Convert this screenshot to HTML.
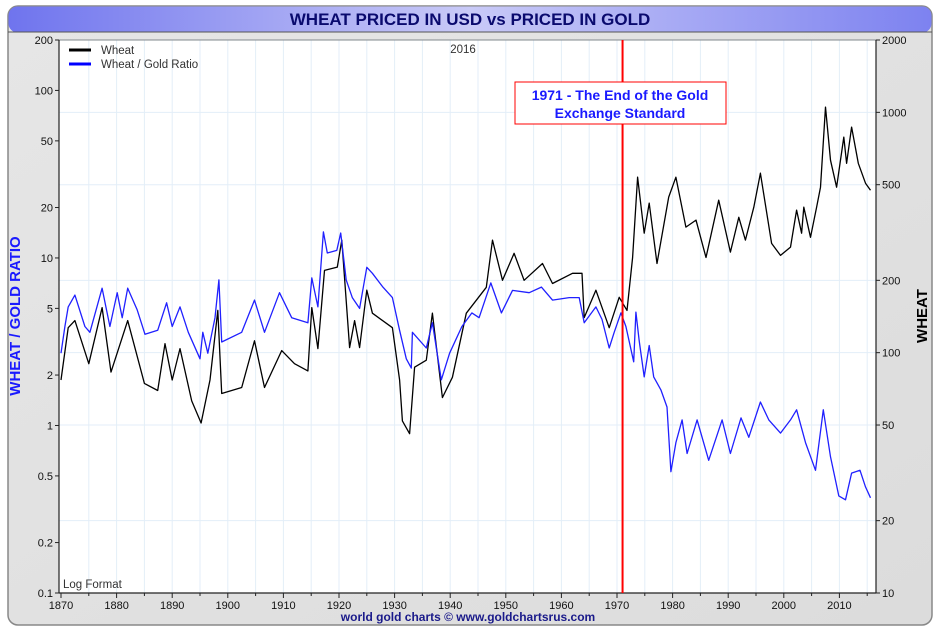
<!DOCTYPE html>
<html><head><meta charset="utf-8"><style>
body{margin:0;background:#fff;width:940px;height:633px;overflow:hidden;font-family:"Liberation Sans",sans-serif}
</style></head><body>
<svg id="chart" width="940" height="633" viewBox="0 0 940 633">
<defs>
<linearGradient id="tg" x1="0" x2="1" y1="0" y2="0"><stop offset="0" stop-color="#6f74ee"/><stop offset="0.5" stop-color="#c9caf7"/><stop offset="1" stop-color="#7d82f0"/></linearGradient>
<linearGradient id="bg" x1="0" x2="1" y1="0" y2="1"><stop offset="0" stop-color="#e6e6e6"/><stop offset="1" stop-color="#dcdcdc"/></linearGradient>
</defs>
<rect x="8" y="6" width="924" height="619" rx="10" fill="url(#bg)" stroke="#888" stroke-width="1.5"/>
<rect x="8.5" y="6.5" width="923" height="26" rx="9" fill="url(#tg)"/>
<line x1="8" y1="32" x2="932" y2="32" stroke="#555" stroke-width="1"/>
<text x="470" y="25" text-anchor="middle" font-size="17" font-weight="bold" fill="#0a0a6e">WHEAT PRICED IN USD vs PRICED IN GOLD</text>
<rect x="59" y="40" width="817" height="553" fill="#fff"/>
<g id="grid"></g>
<g id="series"></g>
<line x1="59" y1="40" x2="59" y2="593" stroke="#222" stroke-width="1.2"/>
<line x1="876" y1="40" x2="876" y2="593" stroke="#222" stroke-width="1.2"/>
<line x1="59" y1="593" x2="876" y2="593" stroke="#222" stroke-width="1.2"/>
<line x1="59" y1="40" x2="876" y2="40" stroke="#222" stroke-width="0.6"/>
<g id="axes" font-size="11" fill="#111"></g>
<text x="20" y="316" transform="rotate(-90 20 316)" text-anchor="middle" font-size="15" font-weight="bold" fill="#1a1aff">WHEAT / GOLD RATIO</text>
<text x="927" y="316" transform="rotate(-90 927 316)" text-anchor="middle" font-size="15" font-weight="bold" fill="#000">WHEAT</text>
<g>
<line x1="69" y1="50" x2="91" y2="50" stroke="#000" stroke-width="3"/>
<text x="101" y="54" font-size="11.5" fill="#333">Wheat</text>
<line x1="69" y1="64" x2="91" y2="64" stroke="#00f" stroke-width="3"/>
<text x="101" y="68" font-size="11.5" fill="#333">Wheat / Gold Ratio</text>
</g>
<text x="463" y="53" text-anchor="middle" font-size="11.5" fill="#333">2016</text>
<text x="63" y="588" font-size="11.5" fill="#333">Log Format</text>
<g id="anno"></g>
<text x="468" y="621" text-anchor="middle" font-size="12" font-weight="bold" fill="#1a1a8a">world gold charts © www.goldchartsrus.com</text>
</svg>
<script>
const wheatYears=[1870,1871.3,1872.5,1875,1877.4,1879,1882,1885,1887.4,1888.7,1890,1891.4,1893.5,1895.2,1896.8,1898.2,1898.9,1902.5,1904.8,1906.6,1909.7,1912,1914.4,1915.1,1916.2,1917.4,1919.7,1920.5,1921.9,1922.8,1923.7,1925,1926,1929.6,1930.9,1931.4,1932.7,1933.6,1935.7,1936.8,1938.6,1940.4,1942.9,1946.5,1947.6,1949.4,1951.5,1953.3,1956.6,1958.4,1962,1963.7,1964.1,1966.2,1968.6,1970.4,1971.8,1972.8,1973.7,1974.9,1975.8,1977.2,1979.3,1980.6,1982.4,1984.2,1986,1988.3,1990.4,1991.9,1993.1,1994.6,1995.8,1997.8,1999.4,2001.2,2002.3,2003.2,2003.6,2004.8,2005.9,2006.6,2007.5,2008.4,2009.5,2010.8,2011.3,2012.2,2013.4,2014.7,2015.6];
const wheatPrice=[77,127,136,90,154,83,136,74.5,69.6,109,77,104,63,51,77,150,67.6,71.6,112,71.6,102,90,84,154,104,220,227,294,105,136,105,182,146,127,77,52,46,87,93,146,65,79,146,187,294,200,259,200,235,194,214,214,140,182,127,170,150,249,537,314,419,235,444,537,333,356,249,431,262,366,294,403,558,285,254,275,392,314,403,302,403,488,1052,632,488,789,614,868,614,507,474];
const ratioYears=[1870,1870.7,1871.3,1872.5,1874.3,1875.2,1877.4,1878.8,1880.1,1881,1882,1883.7,1885.1,1887.4,1889,1890,1891.4,1892.9,1895,1895.5,1896.4,1897.7,1898.4,1898.9,1902.5,1904.8,1906.6,1909.3,1911.5,1914.4,1915.1,1916.2,1917.2,1917.9,1919.6,1920.3,1921.3,1922.4,1923.7,1925,1926,1927.9,1929.6,1930.9,1932.1,1933,1933.2,1935.7,1936.8,1938.4,1939.9,1942.1,1943.9,1945.2,1947.3,1949.2,1951.2,1954.2,1956.4,1958.4,1961.4,1963.2,1964.1,1966.2,1967.3,1968.6,1969.5,1970.7,1971.6,1973,1973.4,1974,1974.9,1975.8,1976.6,1977.9,1979,1979.7,1980.6,1981.7,1982.6,1984.4,1986.5,1988.9,1990.4,1992.3,1993.7,1995.8,1997.3,1999.4,2001.2,2002.3,2003.9,2005.7,2007.1,2008.4,2009.9,2011.1,2012.2,2013.7,2014.7,2015.6];
const ratioValue=[2.7,3.9,5.1,6.0,3.9,3.6,6.6,3.9,6.2,4.4,6.6,4.9,3.5,3.7,5.4,3.9,5.1,3.6,2.5,3.6,2.7,4.4,7.4,3.15,3.6,5.6,3.6,6.2,4.4,4.1,7.6,5.1,14.3,10.7,11.1,14.1,7.4,5.8,5.0,8.8,8.1,6.7,5.8,3.7,2.5,2.2,3.6,2.9,4.1,1.87,2.7,3.9,4.7,4.4,7.1,4.7,6.4,6.2,6.7,5.6,5.8,5.8,4.1,5.1,4.3,2.9,3.6,4.7,3.9,2.4,4.75,3.2,1.95,3.0,1.95,1.63,1.29,0.53,0.79,1.08,0.68,1.08,0.62,1.08,0.68,1.11,0.85,1.38,1.08,0.90,1.08,1.24,0.79,0.54,1.24,0.65,0.38,0.36,0.52,0.54,0.43,0.37];
const leftTicks=[200,100,50,20,10,5,2,1,0.5,0.2,0.1];
const rightTicks=[2000,1000,500,200,100,50,20,10];
const xTicks=[1870,1880,1890,1900,1910,1920,1930,1940,1950,1960,1970,1980,1990,2000,2010];
const eventYear=1971;

const NS="http://www.w3.org/2000/svg";
const X0=59,X1=876,Y0=40,Y1=593;
const xs=y=>61+(y-1870)*5.56;
const yL=v=>Y0+(Math.log10(200)-Math.log10(v))/Math.log10(2000)*(Y1-Y0);
const yR=v=>Y0+(Math.log10(2000)-Math.log10(v))/Math.log10(200)*(Y1-Y0);
function mk(t,a,p){const e=document.createElementNS(NS,t);for(const k in a)e.setAttribute(k,a[k]);p.appendChild(e);return e;}
const grid=document.getElementById('grid'),axes=document.getElementById('axes'),ser=document.getElementById('series');
for(let yr=1875;yr<=2015;yr+=5){const l=mk('line',{x1:xs(yr),x2:xs(yr),y1:Y0,y2:Y1,stroke:'#e3eef8','stroke-width':1},grid);

}
rightTicks.forEach(v=>{const l=mk('line',{x1:X0,x2:X1,y1:yR(v),y2:yR(v),stroke:'#e3eef8','stroke-width':1},grid);

});
for(let yr=1870;yr<=2015;yr+=5){mk('line',{x1:xs(yr),x2:xs(yr),y1:Y1,y2:Y1+(yr%10?3:5),stroke:'#222'},axes);}
xTicks.forEach(yr=>{const t=mk('text',{x:xs(yr),y:Y1+16,'text-anchor':'middle'},axes);t.textContent=yr;

});
leftTicks.forEach(v=>{mk('line',{x1:X0-4,x2:X0,y1:yL(v),y2:yL(v),stroke:'#222'},axes);
const t=mk('text',{x:X0-6,y:yL(v)+4,'text-anchor':'end'},axes);t.textContent=v;

});
rightTicks.forEach(v=>{mk('line',{x1:X1,x2:X1+4,y1:yR(v),y2:yR(v),stroke:'#222'},axes);
const t=mk('text',{x:X1+6,y:yR(v)+4},axes);t.textContent=v;

});
const wp=mk('polyline',{points:wheatYears.map((y,i)=>xs(y).toFixed(1)+','+yR(wheatPrice[i]).toFixed(1)).join(' '),fill:'none',stroke:'#000','stroke-width':1.3,'stroke-linejoin':'round'},ser);


const rp=mk('polyline',{points:ratioYears.map((y,i)=>xs(y).toFixed(1)+','+yL(ratioValue[i]).toFixed(1)).join(' '),fill:'none',stroke:'#2020ff','stroke-width':1.3,'stroke-linejoin':'round'},ser);


const anno=document.getElementById('anno');
const vl=mk('line',{x1:xs(eventYear),x2:xs(eventYear),y1:Y0,y2:Y1,stroke:'#f00','stroke-width':2},anno);


const bx=mk('rect',{x:515,y:82,width:211,height:42,fill:'#fff',stroke:'#f00','stroke-width':1},anno);


[['1971 - The End of the Gold',100],['Exchange Standard',118]].forEach(([s,y])=>{const t=mk('text',{x:620,y:y,'text-anchor':'middle','font-size':14,'font-weight':'bold',fill:'#1a1aff'},anno);t.textContent=s;

});
</script>
</body></html>
